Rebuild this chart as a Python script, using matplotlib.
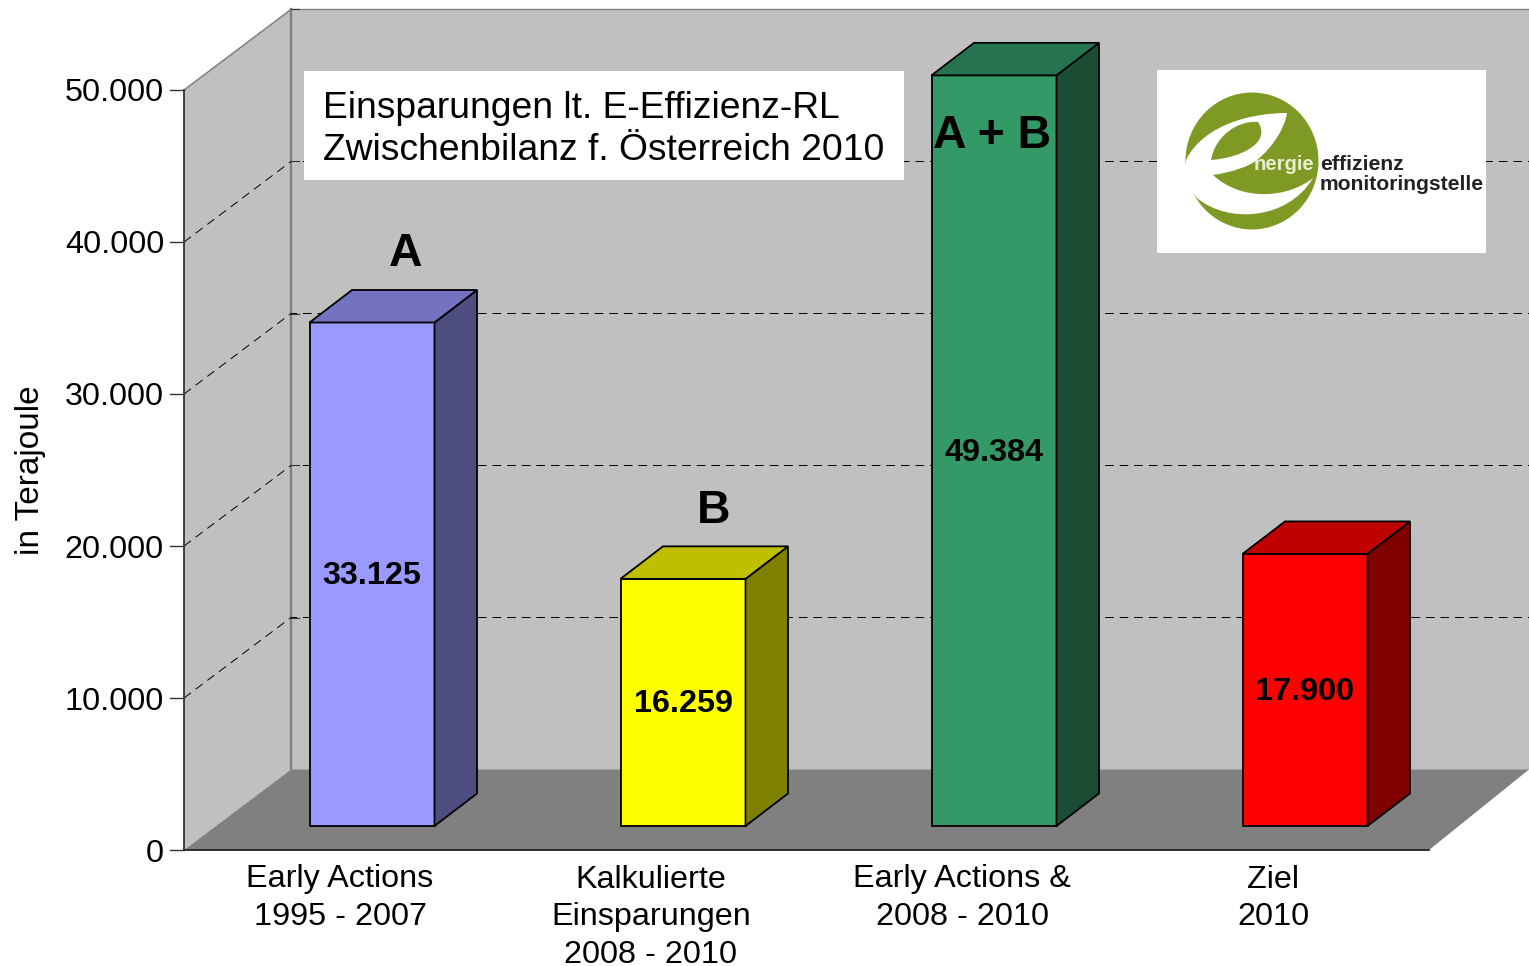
import matplotlib
matplotlib.use('Agg')
import matplotlib.pyplot as plt
from matplotlib.patches import PathPatch, Ellipse, Rectangle
from matplotlib.path import Path
from matplotlib.transforms import Affine2D

plt.rcParams['font.family'] = ['Liberation Sans', 'DejaVu Sans']

# data
categories = ['Early Actions\n1995 - 2007', 'Kalkulierte\nEinsparungen\n2008 - 2010',
              'Early Actions &\n2008 - 2010', 'Ziel\n2010']
values = [33125, 16259, 49384, 17900]
value_labels = ['33.125', '16.259', '49.384', '17.900']
marks = ['A', 'B', 'A + B', '']
y_ticks = [0, 10000, 20000, 30000, 40000, 50000]

front_colors = ['#9999ff', '#ffff00', '#339966', '#ff0000']
top_colors = ['#7373bf', '#bfbf00', '#267350', '#bf0000']
side_colors = ['#4d4d80', '#808000', '#1a4d33', '#800000']

W, H = 1529, 966
PX_X = 311.0     # px per category
PX_Y = 0.0152    # px per unit


def dx(p):
    return p / PX_X


def dy(p):
    return p / PX_Y


def fmt(v):
    return f'{int(v):,}'.replace(',', '.')


def curve(points):
    # one closed outline of bezier segments
    codes = [Path.MOVETO] + [Path.CURVE4] * (len(points) - 1)
    return Path(points, codes)


fig = plt.figure(figsize=(W / 100, H / 100), dpi=100)
ax = fig.add_axes([0, 0, 1, 1])
ax.set_xlim(-372 / PX_X, (W - 372) / PX_X)
ax.set_ylim(dy(850 - H), dy(850))
ax.axis('off')

# pixel coords for the boxes and the logo
px = Affine2D().scale(1, -1).translate(0, H)

x0 = dx(184 - 372)
wall_x = x0 + dx(107)
wall_up = dy(80.5)
top = 50000
right = ax.get_xlim()[1]
floor_end = x0 + dx(1245)

# walls and floor
ax.fill([x0, wall_x, wall_x, x0], [0, wall_up, top + wall_up, top], color='#c0c0c0', lw=0, zorder=1)
ax.fill([wall_x, right, right, wall_x], [wall_up, wall_up, top + wall_up, top + wall_up], color='#c0c0c0', lw=0, zorder=1)
ax.fill([x0, wall_x, right, floor_end], [0, wall_up, wall_up, 0], color='#808080', lw=0, zorder=2)
ax.plot([x0, wall_x], [top, top + wall_up], color='#808080', lw=1.1, zorder=3)
ax.plot([wall_x, wall_x], [top + wall_up, wall_up], color='#808080', lw=1.7, zorder=3)
ax.plot([wall_x, right], [top + wall_up, top + wall_up], color='#808080', lw=1, zorder=3)

# grid
for t in y_ticks[1:-1]:
    ax.plot([x0, wall_x, right], [t, t + wall_up, t + wall_up], color='black', lw=0.7,
            dashes=(9, 6), zorder=3)
    ax.plot([wall_x, wall_x + dx(8)], [t + wall_up, t + wall_up], color='#333333', lw=0.8, zorder=3)
ax.plot([wall_x, wall_x + dx(8)], [top + wall_up, top + wall_up], color='#333333', lw=0.8, zorder=3)

# y axis
ax.plot([x0, x0], [0, top], color='#333333', lw=1.3, zorder=6)
ax.plot([x0, floor_end], [0, 0], color='#222222', lw=1.3, zorder=6)
for t in y_ticks:
    ax.plot([x0 - dx(14), x0], [t, t], color='#333333', lw=1, zorder=6)
    ax.text(x0 - dx(20), t, fmt(t), ha='right', va='center_baseline', fontsize=23.3, zorder=7)
ax.text(dx(30 - 372), dy(850 - 470), 'in Terajoule', rotation=90, ha='center', va='center', fontsize=24)

# bars
bw = dx(125)
base = dy(24)
bar_dx = dx(42.5)
bar_dy = dy(32.5)
for i, v in enumerate(values):
    l = i - bw / 2
    r = i + bw / 2
    b = base
    t = base + v
    ax.fill([l, r, r, l], [b, b, t, t], fc=front_colors[i], ec='black', lw=1.3, zorder=10, joinstyle='miter')
    ax.fill([r, r + bar_dx, r + bar_dx, r], [b, b + bar_dy, t + bar_dy, t], fc=side_colors[i], ec='black', lw=1.3,
            zorder=10, joinstyle='miter')
    ax.fill([l, r, r + bar_dx, l + bar_dx], [t, t, t + bar_dy, t + bar_dy], fc=top_colors[i], ec='black', lw=1.3,
            zorder=10, joinstyle='miter')
    ax.text(i, base + v / 2 - dy(2), value_labels[i], ha='center', va='center', fontsize=23.3,
            fontweight='bold', zorder=12)
    ax.text(i - dx(32), dy(-14.5), categories[i], ha='center', va='top', fontsize=23.3, linespacing=1.33, zorder=12)

# A / B marks
ax.text(0 + dx(34), dy(850 - 254), marks[0], ha='center', va='center', fontsize=33.4, fontweight='bold', zorder=12)
ax.text(1 + dx(31), dy(850 - 511), marks[1], ha='center', va='center', fontsize=33.4, fontweight='bold', zorder=12)
ax.text(2 - dx(2), dy(850 - 136), marks[2], ha='center', va='center', fontsize=33.4, fontweight='bold', zorder=12)

# title box
ax.add_patch(Rectangle((304, 71), 600, 109, fc='white', ec='none', transform=px, zorder=8))
ax.text(323, 108, 'Einsparungen lt. E-Effizienz-RL', transform=px, fontsize=26.8, va='center', ha='left', zorder=9)
ax.text(323, 151, 'Zwischenbilanz f. Österreich 2010', transform=px, fontsize=26.8, va='center', ha='left', zorder=9)

# logo
GREEN = '#7f9a24'
ax.add_patch(Rectangle((1157, 70), 329, 183, fc='white', ec='none', transform=px, zorder=8))
ax.add_patch(Ellipse((1252, 161), 133, 137, fc=GREEN, ec='none', transform=px, zorder=9))
swoosh = curve([(1287, 113), (1250, 113), (1205, 125), (1187, 158),
                (1181, 172), (1187, 187), (1197, 198),
                (1228, 224), (1288, 220), (1313, 178),
                (1288, 198), (1242, 202), (1213, 175),
                (1232, 172), (1248, 167), (1257, 160),
                (1272, 148), (1285, 128), (1287, 113)])
ax.add_patch(PathPatch(swoosh, fc='white', ec='none', transform=px, zorder=10))
leaf = curve([(1258, 122), (1238, 120), (1215, 136), (1211, 160),
              (1240, 158), (1272, 143), (1258, 122)])
ax.add_patch(PathPatch(leaf, fc=GREEN, ec='none', transform=px, zorder=11))
ax.text(1254, 165, 'nergie', transform=px, fontsize=14.6, color='#e8eed0', fontweight='bold', va='center', ha='left', zorder=12)
ax.text(1320, 164, 'effizienz', transform=px, fontsize=15.2, color='#222222', fontweight='bold', va='center', ha='left', zorder=12)
ax.text(1320, 185, 'monitoringstelle', transform=px, fontsize=15.2, color='#222222', fontweight='bold', va='center', ha='left', zorder=12)

fig.savefig('out.png', dpi=100)
